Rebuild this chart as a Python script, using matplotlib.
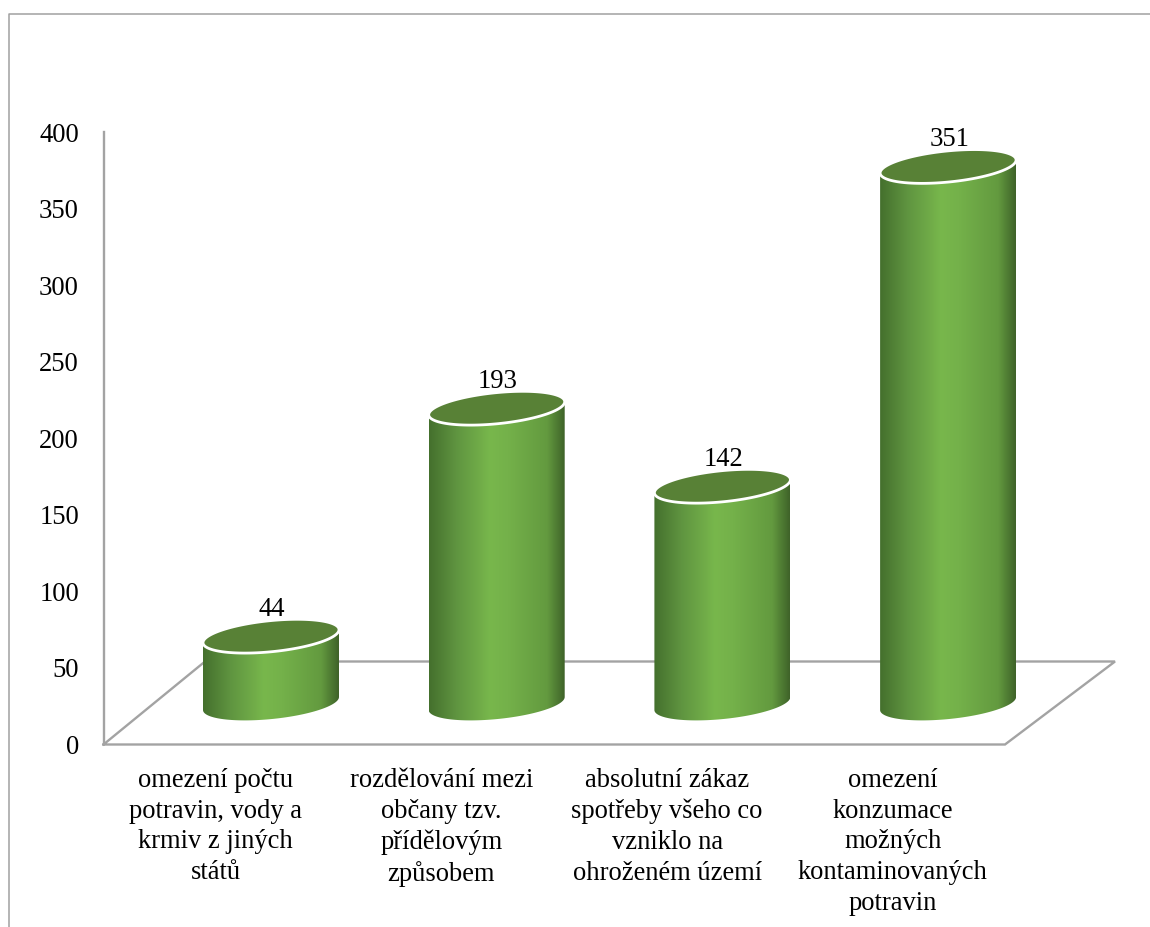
import numpy as np
import matplotlib
matplotlib.use("Agg")
import matplotlib.pyplot as plt
from matplotlib.colors import LinearSegmentedColormap
from matplotlib.patches import PathPatch
from matplotlib.path import Path

categories = [
    "omezení počtu\npotravin, vody a\nkrmiv z jiných\nstátů",
    "rozdělování mezi\nobčany tzv.\npřídělovým\nzpůsobem",
    "absolutní zákaz\nspotřeby všeho co\nvzniklo na\nohroženém území",
    "omezení\nkonzumace\nmožných\nkontaminovaných\npotravin",
]
values = [44, 193, 142, 351]
y_ticks = [0, 50, 100, 150, 200, 250, 300, 350, 400]

W, H = 1150, 928
plt.rcParams["font.family"] = ["Liberation Serif", "DejaVu Serif"]

fig = plt.figure(figsize=(W / 100, H / 100), dpi=100)
ax = fig.add_axes([0, 0, 1, 1])

# pixel layout of the fake 3d chart
X0_PX, DX_PX = 271.0, 225.7
Y0_PX, DY_PX = 745.0, 1.53
px_x = lambda p: (p - X0_PX) / DX_PX
px_y = lambda p: (Y0_PX - p) / DY_PX
ax.set_xlim(px_x(0), px_x(W))
ax.set_ylim(px_y(H), px_y(0))
ax.axis("off")

BASE = px_y(704.5)
RX = 68 / DX_PX
RY = 15.6 / DY_PX
SHEAR = 6.5 / DY_PX

grey = "#a3a3a3"
# outer chart frame
ax.plot([px_x(9), px_x(9), px_x(W)], [px_y(H), px_y(14.5), px_y(14.5)], color="#a0a0a0", lw=1.1, zorder=1)
# back wall and floor
ax.plot([px_x(103.5), px_x(103.5)], [px_y(133), 0], color=grey, lw=1.7, zorder=1)
ax.plot([px_x(x) for x in (103.5, 1005, 1115, 205, 103.5)],
        [px_y(y) for y in (745.5, 745.5, 662.5, 662.5, 745.5)],
        color=grey, lw=1.7, zorder=1, solid_joinstyle="miter")

cmap = LinearSegmentedColormap.from_list(
    "cyl", [(0, "#44702d"), (0.2, "#5f9440"), (0.45, "#78b74c"), (0.58, "#74b14a"),
            (0.87, "#639a3f"), (1, "#3f6329")])
grad = np.linspace(0, 1, 256).reshape(1, -1)


def ell(cx, cy, t):
    return cx + RX * np.cos(t), cy + RY * np.sin(t) + SHEAR * np.cos(t)


for i, v in enumerate(values):
    top = BASE + v
    # side of the cylinder: lower half of top rim, lower half of bottom rim
    t = np.linspace(np.pi, 2 * np.pi, 80)
    xb, yb = ell(i, BASE, t)
    xt, yt = ell(i, top, t[::-1])
    verts = np.column_stack([np.r_[xb, xt, xb[0]], np.r_[yb, yt, yb[0]]])
    codes = [Path.MOVETO] + [Path.LINETO] * (len(verts) - 2) + [Path.CLOSEPOLY]
    body = PathPatch(Path(verts, codes), fc="none", ec="none", zorder=2)
    ax.add_patch(body)
    im = ax.imshow(grad, cmap=cmap, aspect="auto", zorder=2,
                   extent=(i - RX, i + RX, BASE - RY - SHEAR, top + RY + SHEAR),
                   interpolation="bilinear")
    im.set_clip_path(body)
    # top face
    t = np.linspace(0, 2 * np.pi, 160)
    xe, ye = ell(i, top, t)
    ax.fill(xe, ye, fc="#588136", ec="white", lw=2, zorder=3)
    ax.text(i + 0.005, top + 28 / DY_PX, str(v), ha="center", va="center", fontsize=19.2,
            color="black", zorder=4)
    # category label sits under the front edge of the floor
    ax.text(i - 0.245, px_y(768), categories[i], ha="center", va="top", fontsize=19.1,
            color="black", linespacing=1.3, zorder=4)

ax.set_xlim(px_x(0), px_x(W))
ax.set_ylim(px_y(H), px_y(0))

for tick in y_ticks:
    ax.text(px_x(79), tick - 1.5, str(tick), ha="right", va="center", fontsize=19.2, color="black")

fig.savefig("out.png", dpi=100)
